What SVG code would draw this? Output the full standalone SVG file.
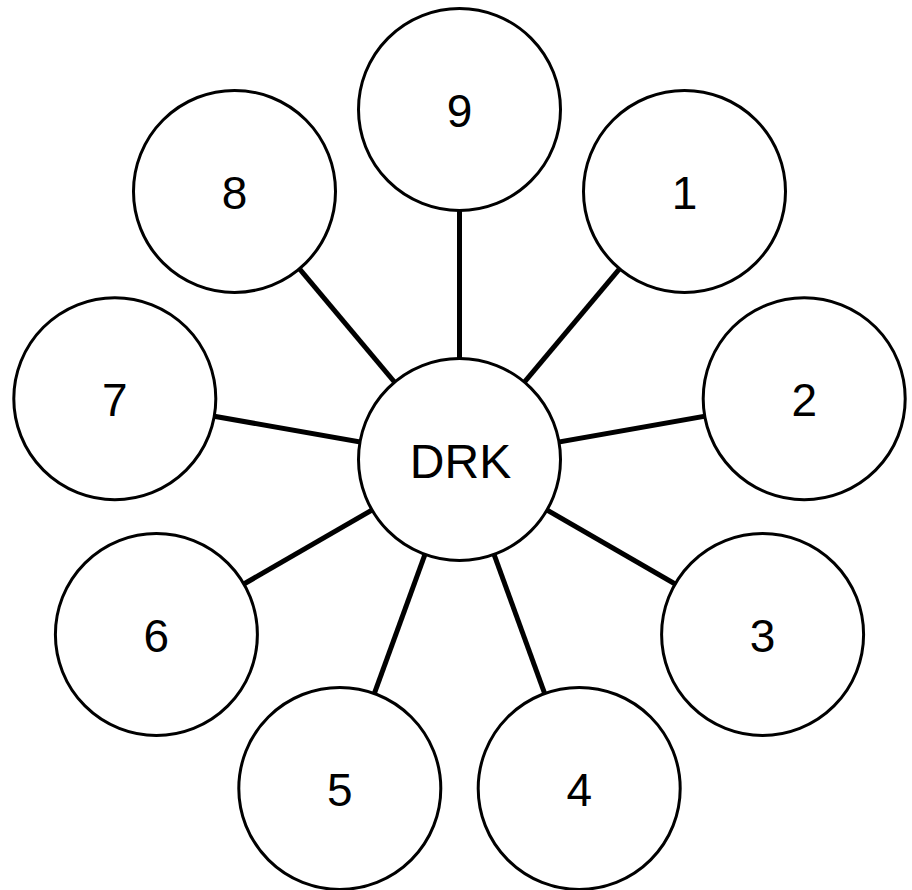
<svg xmlns="http://www.w3.org/2000/svg" width="912" height="890" viewBox="0 0 912 890">
  <style>
    .node circle { fill: #ffffff; stroke: #000000; stroke-width: 3; }
    .node text { font-family: "Liberation Sans", Arial, sans-serif; font-size: 46px; text-anchor: middle; fill: #000000; }
    #node-DRK text { font-size: 48px; }
    .edges line { stroke: #000000; stroke-width: 5; }
  </style>
  <rect x="0" y="0" width="912" height="890" fill="#ffffff"/>
  <g id="connectors" class="edges">
    <line x1="459.5" y1="459.5" x2="459.5" y2="109.5"/>
    <line x1="459.5" y1="459.5" x2="684.5" y2="191.4"/>
    <line x1="459.5" y1="459.5" x2="804.2" y2="398.7"/>
    <line x1="459.5" y1="459.5" x2="762.6" y2="634.5"/>
    <line x1="459.5" y1="459.5" x2="579.2" y2="788.4"/>
    <line x1="459.5" y1="459.5" x2="339.8" y2="788.4"/>
    <line x1="459.5" y1="459.5" x2="156.4" y2="634.5"/>
    <line x1="459.5" y1="459.5" x2="114.8" y2="398.7"/>
    <line x1="459.5" y1="459.5" x2="234.5" y2="191.4"/>
  </g>
  <g id="node-DRK" class="node">
    <circle cx="459.5" cy="459.5" r="101"/>
    <text x="460.5" y="477.5">DRK</text>
  </g>
  <g id="node-9" class="node">
    <circle cx="459.5" cy="109.5" r="101"/>
    <text x="459.5" y="127">9</text>
  </g>
  <g id="node-1" class="node">
    <circle cx="684.5" cy="191.4" r="101"/>
    <text x="684.5" y="208.5">1</text>
  </g>
  <g id="node-2" class="node">
    <circle cx="804.2" cy="398.7" r="101"/>
    <text x="804.2" y="416">2</text>
  </g>
  <g id="node-3" class="node">
    <circle cx="762.6" cy="634.5" r="101"/>
    <text x="762.6" y="651.5">3</text>
  </g>
  <g id="node-4" class="node">
    <circle cx="579.2" cy="788.4" r="101"/>
    <text x="579.2" y="805.5">4</text>
  </g>
  <g id="node-5" class="node">
    <circle cx="339.8" cy="788.4" r="101"/>
    <text x="339.8" y="805.5">5</text>
  </g>
  <g id="node-6" class="node">
    <circle cx="156.4" cy="634.5" r="101"/>
    <text x="156.4" y="651.5">6</text>
  </g>
  <g id="node-7" class="node">
    <circle cx="114.8" cy="398.7" r="101"/>
    <text x="114.8" y="416">7</text>
  </g>
  <g id="node-8" class="node">
    <circle cx="234.5" cy="191.4" r="101"/>
    <text x="234.5" y="208.5">8</text>
  </g>
</svg>
